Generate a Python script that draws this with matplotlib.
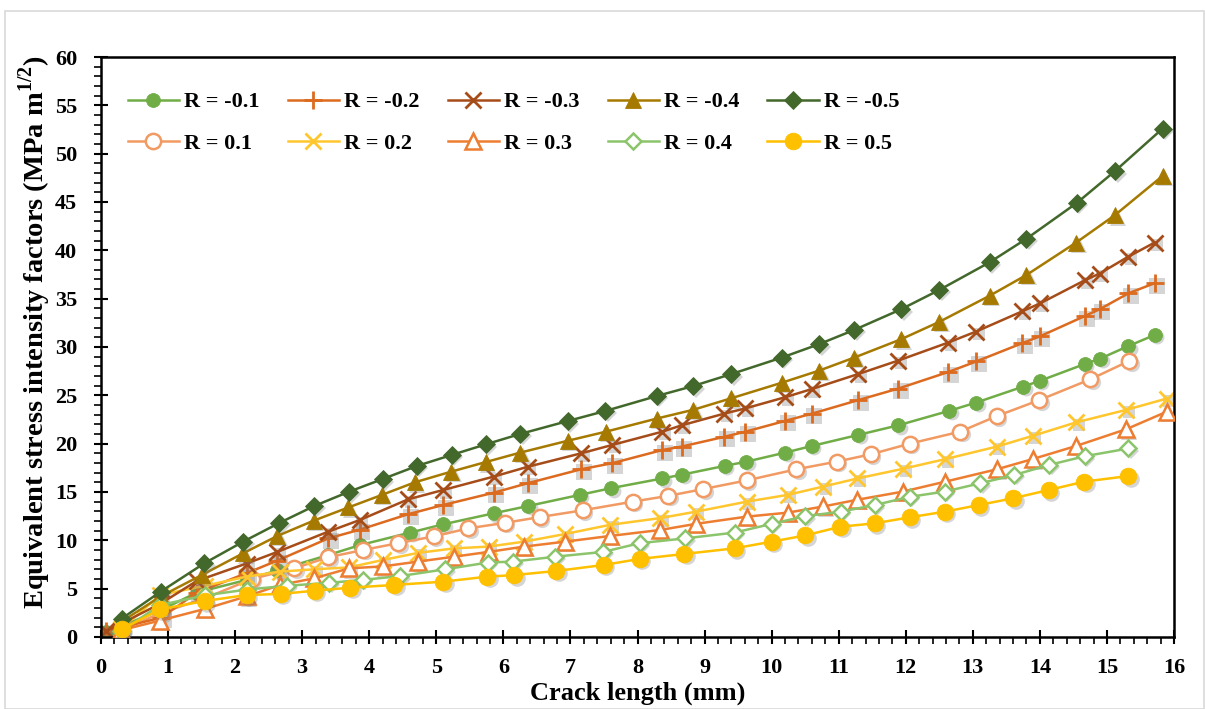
import matplotlib
matplotlib.use('Agg')
import matplotlib.pyplot as plt
import matplotlib.transforms as mtransforms
from matplotlib.patches import Rectangle
from matplotlib.ticker import MultipleLocator

plt.rcParams['font.family'] = 'Liberation Serif'
plt.rcParams['font.weight'] = 'bold'
plt.rcParams['mathtext.fontset'] = 'custom'
plt.rcParams['mathtext.rm'] = 'Liberation Serif:bold'
plt.rcParams['mathtext.bf'] = 'Liberation Serif:bold'

# crack length (mm) and equivalent SIF (MPa m^1/2)
x_m01 = [0.08, 0.9, 1.43, 2.17, 2.63, 3.39, 3.86, 4.61, 5.10, 5.86, 6.37, 7.14, 7.61, 8.37, 8.67,
         9.30, 9.62, 10.2, 10.6, 11.29, 11.89, 12.65, 13.05, 13.75, 14.0, 14.67, 14.9, 15.32, 15.71]
y_m01 = [0.5, 2.8, 4.6, 5.9, 6.9, 8.48, 9.5, 10.8, 11.65, 12.8, 13.55, 14.7, 15.4, 16.4, 16.8,
         17.7, 18.13, 19.07, 19.76, 20.9, 21.9, 23.4, 24.25, 25.9, 26.5, 28.24, 28.8, 30.1, 31.24]

x_m02 = [0.08, 0.9, 1.43, 2.17, 2.63, 3.39, 3.86, 4.58, 5.10, 5.86, 6.36, 7.16, 7.62, 8.37, 8.66,
         9.29, 9.61, 10.2, 10.6, 11.29, 11.89, 12.63, 13.05, 13.74, 14.0, 14.67, 14.89, 15.32, 15.71]
y_m02 = [0.6, 2.0, 4.6, 6.6, 7.9, 10.2, 11.1, 12.7, 13.65, 14.93, 15.9, 17.35, 17.97, 19.34, 19.7,
         20.7, 21.24, 22.35, 23.1, 24.5, 25.7, 27.4, 28.5, 30.4, 31.1, 33.2, 33.9, 35.55, 36.6]

x_m03 = x_m02
y_m03 = [0.6, 3.5, 5.8, 7.6, 8.8, 10.9, 12.1, 14.24, 15.2, 16.6, 17.6, 19.0, 19.86, 21.24, 21.9,
         23.1, 23.65, 24.8, 25.65, 27.2, 28.6, 30.45, 31.6, 33.7, 34.5, 36.9, 37.6, 39.35, 40.8]

x_m04 = [0.31, 0.89, 1.50, 2.12, 2.63, 3.17, 3.69, 4.19, 4.68, 5.22, 5.74, 6.25, 6.96, 7.53,
         8.29, 8.83, 9.40, 10.15, 10.71, 11.23, 11.93, 12.5, 13.25, 13.80, 14.54, 15.12, 15.83]
y_m04 = [1.6, 4.2, 6.4, 8.66, 10.45, 12.03, 13.4, 14.7, 16.0, 17.1, 18.1, 19.07, 20.3, 21.24,
         22.6, 23.5, 24.7, 26.3, 27.56, 28.9, 30.8, 32.6, 35.3, 37.45, 40.8, 43.65, 47.7]

x_m05 = [0.31, 0.89, 1.54, 2.12, 2.66, 3.18, 3.70, 4.20, 4.71, 5.23, 5.74, 6.25, 6.96, 7.52,
         8.29, 8.83, 9.40, 10.15, 10.71, 11.23, 11.93, 12.5, 13.25, 13.80, 14.55, 15.12, 15.83]
y_m05 = [1.9, 4.69, 7.62, 9.86, 11.8, 13.55, 15.03, 16.34, 17.69, 18.83, 19.93, 21.0, 22.34, 23.38,
         24.93, 25.96, 27.2, 28.9, 30.3, 31.76, 33.9, 35.9, 38.76, 41.2, 44.9, 48.2, 52.6]

x_p01 = [0.3, 0.9, 1.55, 2.25, 2.88, 3.39, 3.91, 4.43, 4.96, 5.48, 6.02, 6.54, 7.18, 7.93, 8.46,
         8.98, 9.63, 10.37, 10.97, 11.48, 12.06, 12.81, 13.36, 13.99, 14.75, 15.33]
y_p01 = [0.7, 2.5, 4.0, 6.0, 7.1, 8.25, 9.0, 9.7, 10.4, 11.24, 11.8, 12.4, 13.1, 14.0, 14.6,
         15.3, 16.2, 17.35, 18.14, 18.9, 20.0, 21.24, 22.86, 24.5, 26.65, 28.55]

x_p02 = [0.3, 0.88, 1.55, 2.17, 2.67, 3.18, 3.70, 4.20, 4.73, 5.26, 5.78, 6.31, 6.92, 7.59,
         8.34, 8.87, 9.63, 10.24, 10.77, 11.28, 11.96, 12.59, 13.36, 13.89, 14.54, 15.29, 15.89]
y_p02 = [0.8, 4.34, 5.3, 6.24, 6.76, 7.0, 7.2, 7.96, 8.7, 9.16, 9.35, 9.86, 10.65, 11.6,
         12.3, 12.96, 14.0, 14.7, 15.56, 16.4, 17.4, 18.4, 19.7, 20.8, 22.2, 23.5, 24.66]

x_p03 = x_p02
y_p03 = [0.7, 1.7, 2.9, 4.2, 5.38, 6.07, 7.1, 7.3, 7.8, 8.3, 8.8, 9.35, 9.86, 10.45,
         11.07, 11.7, 12.45, 12.86, 13.5, 14.2, 15.04, 16.07, 17.35, 18.4, 19.76, 21.5, 23.3]

x_p04 = [0.3, 0.88, 1.55, 2.17, 2.78, 3.4, 3.9, 4.46, 5.13, 5.77, 6.15, 6.77, 7.49, 8.03,
         8.71, 9.45, 10.0, 10.5, 11.03, 11.54, 12.06, 12.58, 13.11, 13.62, 14.14, 14.67, 15.32]
y_p04 = [0.6, 3.3, 4.3, 4.9, 5.3, 5.6, 5.9, 6.3, 7.0, 7.7, 7.8, 8.3, 8.8, 9.7,
         10.2, 10.8, 11.7, 12.5, 12.96, 13.65, 14.5, 15.04, 15.9, 16.76, 17.8, 18.7, 19.5]

x_p05 = [0.31, 0.88, 1.55, 2.17, 2.68, 3.19, 3.72, 4.37, 5.10, 5.76, 6.16, 6.79, 7.5, 8.03,
         8.70, 9.45, 10.0, 10.5, 11.02, 11.54, 12.06, 12.58, 13.09, 13.6, 14.13, 14.66, 15.32]
y_p05 = [0.8, 2.86, 3.72, 4.34, 4.45, 4.79, 5.1, 5.38, 5.72, 6.24, 6.4, 6.83, 7.45, 8.07,
         8.59, 9.17, 9.86, 10.5, 11.4, 11.76, 12.38, 12.96, 13.65, 14.35, 15.2, 16.07, 16.65]

# label, x, y, color, marker, size, hollow
series = [
    ('R = -0.1', x_m01, y_m01, '#70AD47', 'o', 10, False),
    ('R = 0.1', x_p01, y_p01, '#F19A63', 'o', 11, True),
    ('R = -0.2', x_m02, y_m02, '#DC6A1F', '+', 13, False),
    ('R = 0.2', x_p02, y_p02, '#FFC62E', 'x', 11, False),
    ('R = -0.3', x_m03, y_m03, '#A54C18', 'x', 11, False),
    ('R = 0.3', x_p03, y_p03, '#ED7D31', '^', 11, True),
    ('R = -0.4', x_m04, y_m04, '#A67A00', '^', 11, False),
    ('R = 0.4', x_p04, y_p04, '#8CC46C', 'D', 8, True),
    ('R = -0.5', x_m05, y_m05, '#43682B', 'D', 9, False),
    ('R = 0.5', x_p05, y_p05, '#FFC000', 'o', 12, False),
]

fig = plt.figure(figsize=(12.05, 7.09), dpi=100)
ax = fig.add_axes([0.0838, 0.1016, 0.8905, 0.818])

# light frame around the whole chart
fig.patches.append(Rectangle((0.004, 0.0), 0.995, 0.985, transform=fig.transFigure,
                             fill=False, edgecolor='#D9D9D9', linewidth=1.2))

shadow = mtransforms.offset_copy(ax.transData, fig=fig, x=2.5, y=-2.5, units='dots')

draw_order = [0, 2, 4, 6, 8, 1, 3, 5, 7, 9]
handles = {}
for i in draw_order:
    lab, xs, ys, col, mk, ms, hollow = series[i]
    z = 2 + i * 0.1
    shmk = 's' if mk in ('+', 'x') else mk
    ax.plot(xs, ys, linestyle='none', marker=shmk, markersize=ms * (0.85 if shmk == 's' else 1.0),
            color='#777777', alpha=0.3, markeredgewidth=0, transform=shadow, zorder=z)
    if hollow:
        ln, = ax.plot(xs, ys, color=col, linewidth=1.8, marker=mk, markersize=ms,
                      markerfacecolor='white', markeredgecolor=col, markeredgewidth=1.8,
                      label=lab, zorder=z + 0.05)
    else:
        ln, = ax.plot(xs, ys, color=col, linewidth=1.8, marker=mk, markersize=ms,
                      markeredgewidth=2.0 if mk in ('+', 'x') else 0.6,
                      label=lab, zorder=z + 0.05)
    handles[i] = ln

ax.set_xlim(0, 16)
ax.set_ylim(0, 60)
ax.xaxis.set_major_locator(MultipleLocator(1))
ax.xaxis.set_minor_locator(MultipleLocator(0.2))
ax.yaxis.set_major_locator(MultipleLocator(5))
ax.yaxis.set_minor_locator(MultipleLocator(1))
ax.tick_params(which='major', direction='inout', length=10, width=1.5, labelsize=16)
ax.tick_params(axis='x', which='major', pad=10)
ax.tick_params(axis='y', which='major', pad=12)
ax.tick_params(which='minor', direction='out', length=5, width=1.2)
for sp in ax.spines.values():
    sp.set_linewidth(1.8)
    sp.set_color('black')

ax.set_xlabel('Crack length (mm)', fontsize=19, fontweight='bold', labelpad=3)
ax.set_ylabel(r'Equivalent stress intensity factors (MPa m$^{1/2}$)', fontsize=20.5,
              fontweight='bold')
ax.yaxis.set_label_coords(-0.045, 0.525)

leg = ax.legend([handles[i] for i in range(10)], [series[i][0] for i in range(10)],
                ncol=5, loc='upper left', bbox_to_anchor=(0.025, 0.94), frameon=False,
                fontsize=16, handlelength=2.3, handletextpad=0.25, columnspacing=1.25,
                labelspacing=0.95, borderaxespad=0, borderpad=0)

fig.savefig('out.png', dpi=100)
